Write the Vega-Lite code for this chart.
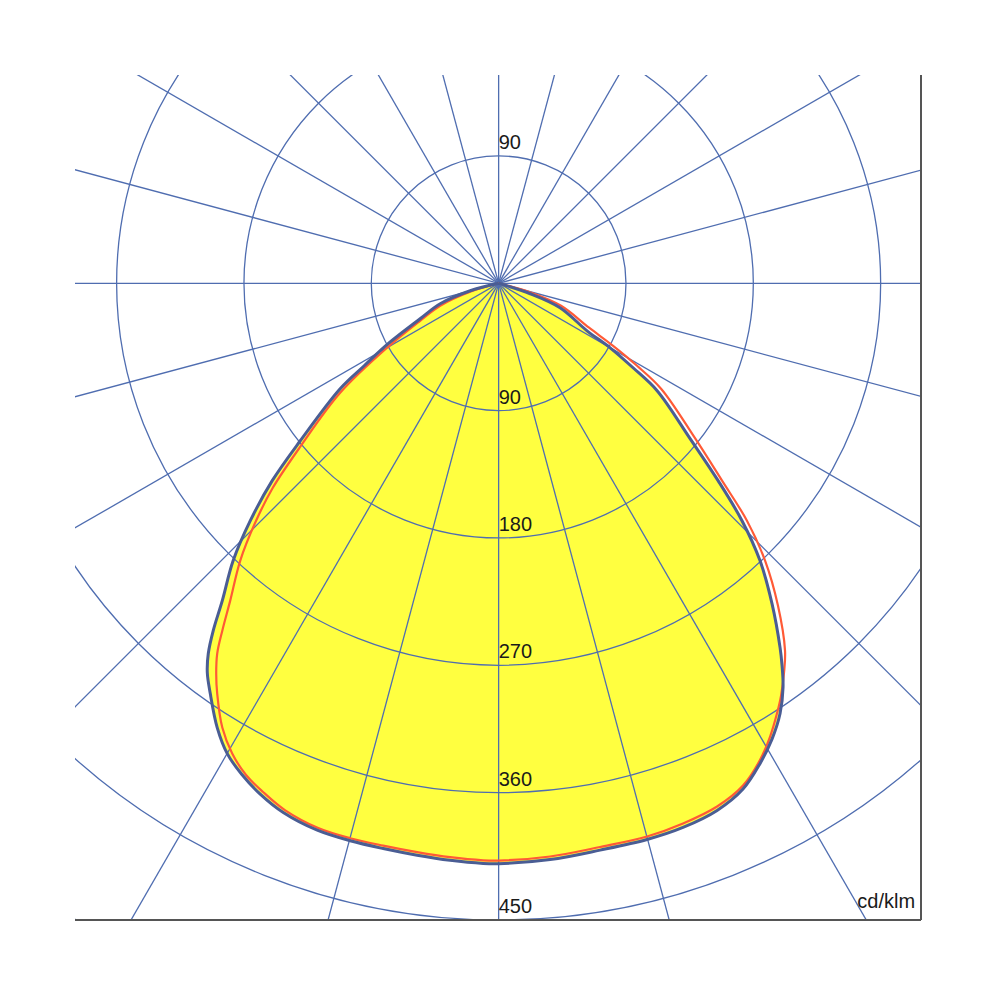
{
  "$schema": "https://vega.github.io/schema/vega-lite/v6.json",
  "width": 846,
  "height": 845,
  "autosize": "none",
  "padding": {"left": 75, "top": 75, "right": 79, "bottom": 80},
  "background": "white",
  "config": {"view": {"stroke": null}},
  "datasets": {
    "blue": [
      {"i": 0, "x": 0, "y": 0},
      {"i": 1, "x": -20.1, "y": -5.3},
      {"i": 2, "x": -41.3, "y": -14.5},
      {"i": 3, "x": -55.5, "y": -25.1},
      {"i": 4, "x": -78.1, "y": -42.7},
      {"i": 5, "x": -95.0, "y": -58.3},
      {"i": 6, "x": -112.0, "y": -74.5},
      {"i": 7, "x": -140.2, "y": -111.3},
      {"i": 8, "x": -160.0, "y": -139.5},
      {"i": 9, "x": -175.5, "y": -167.8},
      {"i": 10, "x": -187.6, "y": -196.0},
      {"i": 11, "x": -195.3, "y": -224.3},
      {"i": 12, "x": -201.7, "y": -245.5},
      {"i": 13, "x": -205.2, "y": -261.7},
      {"i": 14, "x": -205.9, "y": -275.1},
      {"i": 15, "x": -203.8, "y": -290.0},
      {"i": 16, "x": -198.9, "y": -314.0},
      {"i": 17, "x": -191.8, "y": -332.4},
      {"i": 18, "x": -181.6, "y": -347.0},
      {"i": 19, "x": -168.5, "y": -361.0},
      {"i": 20, "x": -152.2, "y": -374.0},
      {"i": 21, "x": -128.2, "y": -386.5},
      {"i": 22, "x": -104.9, "y": -394.0},
      {"i": 23, "x": -81.6, "y": -399.5},
      {"i": 24, "x": -57.6, "y": -404.2},
      {"i": 25, "x": -34.3, "y": -407.8},
      {"i": 26, "x": -10.9, "y": -410.0},
      {"i": 27, "x": 0, "y": -410.2},
      {"i": 28, "x": 36.4, "y": -407.3},
      {"i": 29, "x": 71.7, "y": -400.6},
      {"i": 30, "x": 104.9, "y": -393.1},
      {"i": 31, "x": 130.3, "y": -384.6},
      {"i": 32, "x": 154.4, "y": -372.6},
      {"i": 33, "x": 172.7, "y": -357.5},
      {"i": 34, "x": 184.7, "y": -339.5},
      {"i": 35, "x": 193.2, "y": -322.2},
      {"i": 36, "x": 198.9, "y": -304.1},
      {"i": 37, "x": 201.0, "y": -285.7},
      {"i": 38, "x": 200.3, "y": -270.2},
      {"i": 39, "x": 198.9, "y": -257.5},
      {"i": 40, "x": 193.2, "y": -226.4},
      {"i": 41, "x": 184.7, "y": -196.0},
      {"i": 42, "x": 172.0, "y": -167.8},
      {"i": 43, "x": 155.1, "y": -139.5},
      {"i": 44, "x": 135.3, "y": -109.8},
      {"i": 45, "x": 112.0, "y": -75.9},
      {"i": 46, "x": 95.0, "y": -59.7},
      {"i": 47, "x": 78.8, "y": -45.6},
      {"i": 48, "x": 62.5, "y": -33.6},
      {"i": 49, "x": 43.4, "y": -17.3},
      {"i": 50, "x": 22.3, "y": -7.4},
      {"i": 51, "x": 0, "y": 0}
    ],
    "red": [
      {"i": 0, "x": 0, "y": 0},
      {"i": 1, "x": -20.1, "y": -6.0},
      {"i": 2, "x": -41.3, "y": -15.9},
      {"i": 3, "x": -55.5, "y": -26.5},
      {"i": 4, "x": -78.1, "y": -44.9},
      {"i": 5, "x": -112.0, "y": -77.4},
      {"i": 6, "x": -140.2, "y": -115.5},
      {"i": 7, "x": -160.0, "y": -145.2},
      {"i": 8, "x": -172.0, "y": -169.1},
      {"i": 9, "x": -182.6, "y": -196.0},
      {"i": 10, "x": -189.7, "y": -224.3},
      {"i": 11, "x": -195.3, "y": -245.5},
      {"i": 12, "x": -198.9, "y": -261.7},
      {"i": 13, "x": -199.6, "y": -275.8},
      {"i": 14, "x": -198.9, "y": -290.0},
      {"i": 15, "x": -195.3, "y": -314.0},
      {"i": 16, "x": -188.3, "y": -332.4},
      {"i": 17, "x": -178.5, "y": -347.5},
      {"i": 18, "x": -166.5, "y": -359.5},
      {"i": 19, "x": -150.8, "y": -372.5},
      {"i": 20, "x": -127.5, "y": -385.0},
      {"i": 21, "x": -104.9, "y": -392.2},
      {"i": 22, "x": -81.6, "y": -397.4},
      {"i": 23, "x": -57.6, "y": -402.0},
      {"i": 24, "x": -34.3, "y": -405.6},
      {"i": 25, "x": -10.9, "y": -407.8},
      {"i": 26, "x": 0, "y": -408.0},
      {"i": 27, "x": 36.4, "y": -405.1},
      {"i": 28, "x": 71.7, "y": -398.4},
      {"i": 29, "x": 104.9, "y": -391.0},
      {"i": 30, "x": 130.3, "y": -381.8},
      {"i": 31, "x": 154.4, "y": -369.8},
      {"i": 32, "x": 172.7, "y": -355.0},
      {"i": 33, "x": 184.7, "y": -337.0},
      {"i": 34, "x": 191.8, "y": -320.5},
      {"i": 35, "x": 196.7, "y": -304.1},
      {"i": 36, "x": 199.6, "y": -291.4},
      {"i": 37, "x": 201.7, "y": -275.1},
      {"i": 38, "x": 202.4, "y": -259.6},
      {"i": 39, "x": 197.4, "y": -227.8},
      {"i": 40, "x": 188.3, "y": -196.0},
      {"i": 41, "x": 175.5, "y": -167.8},
      {"i": 42, "x": 157.9, "y": -139.5},
      {"i": 43, "x": 138.1, "y": -108.4},
      {"i": 44, "x": 114.8, "y": -74.5},
      {"i": 45, "x": 97.8, "y": -58.3},
      {"i": 46, "x": 80.9, "y": -44.2},
      {"i": 47, "x": 63.9, "y": -31.4},
      {"i": 48, "x": 44.1, "y": -15.9},
      {"i": 49, "x": 23.0, "y": -6.7},
      {"i": 50, "x": 0, "y": 0}
    ],
    "circles": [{"r": 90}, {"r": 180}, {"r": 270}, {"r": 360}, {"r": 450}, {"r": 540}],
    "spokes": [
      {"x": -800, "y": 0, "x2": 800, "y2": 0},
      {"x": -772.7, "y": -207.0, "x2": 772.7, "y2": 207.0},
      {"x": -692.8, "y": -400, "x2": 692.8, "y2": 400},
      {"x": -565.7, "y": -565.7, "x2": 565.7, "y2": 565.7},
      {"x": -400, "y": -692.8, "x2": 400, "y2": 692.8},
      {"x": -207.0, "y": -772.7, "x2": 207.0, "y2": 772.7},
      {"x": 0, "y": -800, "x2": 0, "y2": 800},
      {"x": 207.0, "y": -772.7, "x2": -207.0, "y2": 772.7},
      {"x": 400, "y": -692.8, "x2": -400, "y2": 692.8},
      {"x": 565.7, "y": -565.7, "x2": -565.7, "y2": 565.7},
      {"x": 692.8, "y": -400, "x2": -692.8, "y2": 400},
      {"x": 772.7, "y": -207.0, "x2": -772.7, "y2": 207.0}
    ],
    "labels": [
      {"label": "90", "v": 90},
      {"label": "90", "v": -90},
      {"label": "180", "v": -180},
      {"label": "270", "v": -270},
      {"label": "360", "v": -360},
      {"label": "450", "v": -450}
    ]
  },
  "layer": [
    {
      "data": {"name": "blue"},
      "mark": {"type": "line", "fill": "#ffff40", "stroke": null, "strokeWidth": 0, "interpolate": "catmull-rom", "clip": true},
      "encoding": {
        "x": {"field": "x", "type": "quantitative", "scale": {"domain": [-299.4, 298.5], "nice": false, "zero": false}, "axis": null},
        "y": {"field": "y", "type": "quantitative", "scale": {"domain": [-450, 147.2], "nice": false, "zero": false}, "axis": null},
        "order": {"field": "i"}
      }
    },
    {
      "data": {"name": "circles"},
      "mark": {"type": "arc", "theta": 0, "theta2": 6.2832, "filled": false, "color": "#4f6db0", "strokeWidth": 1.3, "clip": true},
      "encoding": {
        "x": {"datum": 0, "type": "quantitative", "scale": {"domain": [-299.4, 298.5], "nice": false, "zero": false}, "axis": null},
        "y": {"datum": 0, "type": "quantitative", "scale": {"domain": [-450, 147.2], "nice": false, "zero": false}, "axis": null},
        "radius": {"field": "r", "type": "quantitative", "stack": null, "scale": {"type": "linear", "domain": [0, 450], "range": [0, 636.7], "zero": true}}
      }
    },
    {
      "data": {"name": "spokes"},
      "mark": {"type": "rule", "color": "#4f6db0", "strokeWidth": 1.3, "clip": true},
      "encoding": {
        "x": {"field": "x", "type": "quantitative", "scale": {"domain": [-299.4, 298.5], "nice": false, "zero": false}, "axis": null},
        "y": {"field": "y", "type": "quantitative", "scale": {"domain": [-450, 147.2], "nice": false, "zero": false}, "axis": null},
        "x2": {"field": "x2"},
        "y2": {"field": "y2"}
      }
    },
    {
      "data": {"name": "red"},
      "mark": {"type": "line", "color": "#ff5a36", "strokeWidth": 2.2, "interpolate": "catmull-rom", "clip": true},
      "encoding": {
        "x": {"field": "x", "type": "quantitative", "scale": {"domain": [-299.4, 298.5], "nice": false, "zero": false}, "axis": null},
        "y": {"field": "y", "type": "quantitative", "scale": {"domain": [-450, 147.2], "nice": false, "zero": false}, "axis": null},
        "order": {"field": "i"}
      }
    },
    {
      "data": {"name": "blue"},
      "mark": {"type": "line", "color": "#4a5d94", "strokeWidth": 3, "interpolate": "catmull-rom", "clip": true},
      "encoding": {
        "x": {"field": "x", "type": "quantitative", "scale": {"domain": [-299.4, 298.5], "nice": false, "zero": false}, "axis": null},
        "y": {"field": "y", "type": "quantitative", "scale": {"domain": [-450, 147.2], "nice": false, "zero": false}, "axis": null},
        "order": {"field": "i"}
      }
    },
    {
      "data": {"name": "labels"},
      "mark": {"type": "text", "align": "left", "baseline": "alphabetic", "dx": 0, "dy": -7, "font": "Liberation Sans", "fontSize": 20, "color": "#1a1a1a"},
      "encoding": {
        "x": {"datum": 0, "type": "quantitative", "scale": {"domain": [-299.4, 298.5], "nice": false, "zero": false}, "axis": null},
        "y": {"field": "v", "type": "quantitative", "scale": {"domain": [-450, 147.2], "nice": false, "zero": false}, "axis": null},
        "text": {"field": "label"}
      }
    },
    {
      "data": {"values": [{"t": "cd/klm"}]},
      "mark": {"type": "text", "align": "right", "baseline": "alphabetic", "font": "Liberation Sans", "fontSize": 20, "color": "#1a1a1a"},
      "encoding": {
        "x": {"datum": 294.3, "type": "quantitative", "scale": {"domain": [-299.4, 298.5], "nice": false, "zero": false}, "axis": null},
        "y": {"datum": -441.3, "type": "quantitative", "scale": {"domain": [-450, 147.2], "nice": false, "zero": false}, "axis": null},
        "text": {"field": "t"}
      }
    },
    {
      "data": {"values": [{"b": "bottom"}]},
      "mark": {"type": "rule", "color": "#555555", "strokeWidth": 2},
      "encoding": {
        "y": {"datum": -450, "type": "quantitative", "scale": {"domain": [-450, 147.2], "nice": false, "zero": false}, "axis": null}
      }
    },
    {
      "data": {"values": [{"b": "right"}]},
      "mark": {"type": "rule", "color": "#555555", "strokeWidth": 2},
      "encoding": {
        "x": {"datum": 298.5, "type": "quantitative", "scale": {"domain": [-299.4, 298.5], "nice": false, "zero": false}, "axis": null}
      }
    }
  ]
}
